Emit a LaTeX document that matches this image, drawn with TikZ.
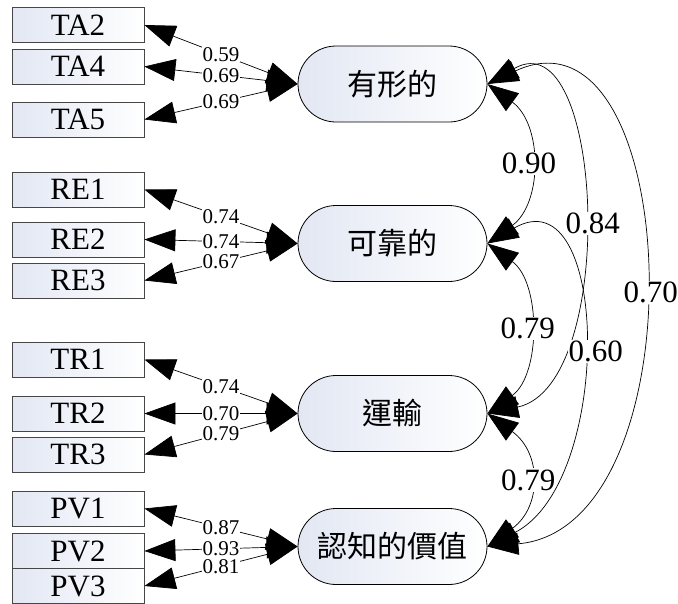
\documentclass[tikz,border=0pt]{standalone}
\usepackage{fontspec}
\setmainfont{Liberation Serif}
\newfontfamily\cjkfont{Noto Sans CJK TC}
\usetikzlibrary{arrows.meta}
\definecolor{boxblue}{RGB}{226,231,243}
\definecolor{boxline}{RGB}{70,70,70}
\tikzset{
 item/.style={draw=boxline, line width=0.8pt, left color=boxblue, right color=white, minimum width=132pt, minimum height=35pt, inner sep=0pt, font=\fontsize{31}{31}\selectfont},
 factor/.style={draw, line width=0.8pt, left color=boxblue, right color=white, rounded corners=38pt, minimum width=189pt, minimum height=76pt, inner sep=0pt, font=\cjkfont\fontsize{30}{30}\selectfont},
 bighead/.tip={Triangle[length=31pt,width=22pt]},
 load/.style={bighead-bighead, line width=0.7pt},
 loadnum/.style={fill=white, inner sep=0.5pt, font=\fontsize{21}{21}\selectfont},
 cov/.style={bighead-bighead, line width=0.7pt},
 covnum/.style={fill=white, inner sep=1pt, font=\fontsize{31}{31}\selectfont}
}
\begin{document}
\begin{tikzpicture}[x=1pt, y=1pt]
 \useasboundingbox (0,0) rectangle (678,-603);
 \clip (0,0) rectangle (678,-603);

 \node[item] (ta2) at (78,-25) {TA2};
 \node[item] (ta4) at (78,-66.5) {TA4};
 \node[item] (ta5) at (78,-119.5) {TA5};
 \node[item] (re1) at (78,-189.5) {RE1};
 \node[item] (re2) at (78,-239.5) {RE2};
 \node[item] (re3) at (78,-280.5) {RE3};
 \node[item] (tr1) at (78,-359.5) {TR1};
 \node[item] (tr2) at (78,-413.5) {TR2};
 \node[item] (tr3) at (78,-454.5) {TR3};
 \node[item] (pv1) at (78,-508.5) {PV1};
 \node[item] (pv2) at (78,-551) {PV2};
 \node[item] (pv3) at (78,-586) {PV3};

 \node[factor] (tang) at (392.5,-84) {有形的};
 \node[factor] (reli) at (392.5,-243.5) {可靠的};
 \node[factor] (tran) at (392.5,-413.5) {運輸};
 \node[factor] (perc) at (392.5,-546.5) {認知的價值};

 \draw[load] (ta2.east) -- node[loadnum, midway] {0.59} (tang.west);
 \draw[load] (ta4.east) -- node[loadnum, midway] {0.69} (tang.west);
 \draw[load] (ta5.east) -- node[loadnum, midway] {0.69} (tang.west);
 \draw[load] (re1.east) -- node[loadnum, midway] {0.74} (reli.west);
 \draw[load] (re2.east) -- node[loadnum, midway] {0.74} (reli.west);
 \draw[load] (re3.east) -- node[loadnum, midway] {0.67} (reli.west);
 \draw[load] (tr1.east) -- node[loadnum, midway] {0.74} (tran.west);
 \draw[load] (tr2.east) -- node[loadnum, midway] {0.70} (tran.west);
 \draw[load] (tr3.east) -- node[loadnum, midway] {0.79} (tran.west);
 \draw[load] (pv1.east) -- node[loadnum, midway] {0.87} (perc.west);
 \draw[load] (pv2.east) -- node[loadnum, midway] {0.93} (perc.west);
 \draw[load] (pv3.east) -- node[loadnum, midway] {0.81} (perc.west);

 \draw[cov] (tang.east) to[out=-36, in=36, looseness=1.1] node[covnum] {0.90} (reli.east);
 \draw[cov] (reli.east) to[out=-36, in=36, looseness=1.0] node[covnum] {0.79} (tran.east);
 \draw[cov] (tran.east) to[out=-36, in=36, looseness=1.3] node[covnum] {0.79} (perc.east);
 \draw[cov] (tang.east) to[out=30, in=12, looseness=1.05] node[covnum, pos=0.52, xshift=12pt] {0.84} (tran.east);
 \draw[cov] (reli.east) to[out=30, in=27, looseness=1.2] node[covnum, pos=0.515, xshift=15pt] {0.60} (perc.east);
 \draw[cov] (tang.east) to[out=25, in=5, looseness=1.2] node[covnum, pos=0.525, xshift=9pt] {0.70} (perc.east);
\end{tikzpicture}
\end{document}
